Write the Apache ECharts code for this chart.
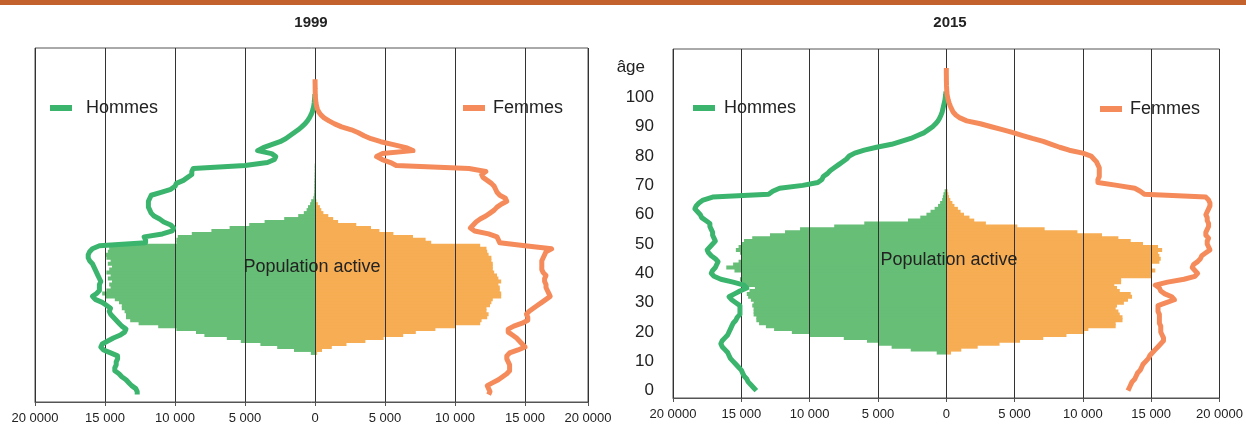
<!DOCTYPE html>
<html>
<head>
<meta charset="utf-8">
<script src="https://cdn.jsdelivr.net/npm/echarts@6/dist/echarts.min.js"></script>
<style>
  html, body { margin: 0; padding: 0; background: #fff; }
  #chart { width: 1246px; height: 428px; }
</style>
</head>
<body>
<div id="chart"></div>
<script>
// population totale par âge (index = âge), en personnes
const hommes1999 = [
  12700, 12700, 12800, 13100, 13300, 13500, 13800, 14000, 14300, 14300,
  14200, 14200, 14100, 14100, 14600, 15100, 15300, 15200, 14800, 14400,
  13900, 13600, 13500, 13800, 14000, 14200, 14400, 14600, 14700, 14600,
  14900, 15200, 15700, 15900, 15600, 15400, 15400, 15400, 15300, 15400,
  15500, 15600, 15700, 15800, 15900, 16100, 16200, 16200, 16100, 15900,
  15400, 12100, 12100, 12200, 10900, 10200, 10100, 10300, 10800, 11100,
  11500, 11700, 11800, 11900, 11900, 11900, 11800, 11700, 11000, 10300,
  10000, 9900, 9400, 9100, 8800, 8800, 8700, 5000, 3400, 2900,
  2800, 3100, 4100, 3700, 3100, 2500, 2100, 1800, 1500, 1200,
  950, 720, 540, 400, 290, 200, 140, 90, 60, 40,
  20, 10
];
const femmes1999 = [
  12400, 12500, 12400, 12300, 12700, 13100, 13400, 13700, 13900, 13900,
  13900, 13800, 13700, 13700, 13900, 14500, 15000, 14800, 14600, 14400,
  14100, 13800, 13800, 14200, 14800, 15200, 15200, 15100, 15300, 15600,
  15900, 16200, 16500, 16800, 16700, 16600, 16500, 16500, 16400, 16400,
  16500, 16300, 16200, 16200, 16200, 16200, 16300, 16400, 16500, 16900,
  15000, 13200, 13100, 13000, 12400, 11400, 11100, 11300, 11500, 11800,
  12200, 12500, 12800, 13000, 13300, 13700, 13600, 13200, 13000, 12900,
  12800, 12600, 12300, 12000, 11900, 12200, 11000, 5800, 5400, 4800,
  4400, 4800, 7000, 6500, 5600, 4700, 4000, 3500, 3100, 2600,
  1900, 1400, 1000, 650, 420, 270, 170, 110, 70, 45,
  30, 20, 15, 10, 10, 5, 5
];
const hommes2015 = [
  13900, 14100, 14300, 14500, 14600, 14800, 14900, 15000, 15200, 15400,
  15600, 15800, 15900, 16000, 16200, 16400, 16500, 16400, 16200, 16000,
  15900, 15800, 15700, 15600, 15400, 15300, 15100, 15100, 15100, 15100,
  15400, 15700, 15900, 15500, 15100, 14600, 14800, 15600, 16500, 17000,
  17200, 17100, 16900, 16800, 16700, 16900, 17200, 17400, 17500, 17300,
  17100, 16900, 17000, 17100, 17100, 17200, 17300, 17300, 17600, 17900,
  18000, 18200, 18400, 18300, 18100, 17800, 17100, 13000, 12700, 12200,
  10500, 9400, 9100, 9000, 8700, 8500, 8200, 7900, 7600, 7300,
  7100, 6700, 6000, 5100, 4000, 3300, 2600, 2100, 1600, 1300,
  1000, 780, 600, 480, 380, 300, 250, 200, 150, 100,
  70, 40, 20
];
const femmes2015 = [
  13300, 13400, 13500, 13600, 13800, 13900, 14000, 14200, 14300, 14400,
  14600, 14800, 14900, 15100, 15300, 15500, 15700, 15900, 15900, 15800,
  15700, 15700, 15700, 15600, 15600, 15600, 15600, 15500, 15500, 15500,
  16100, 16700, 16500, 16000, 15700, 15600, 15300, 16200, 17400, 18200,
  18400, 18200, 18000, 18100, 18400, 18600, 18700, 19000, 19300, 19200,
  19100, 19100, 19200, 19000, 19000, 19100, 19200, 19200, 19100, 19100,
  19000, 19100, 19200, 19300, 19300, 19200, 19000, 14500, 14200, 13800,
  12500, 11100, 11100, 11200, 11200, 11200, 11200, 11100, 11000, 10800,
  10600, 10000, 9000, 8300, 7700, 7100, 6300, 5600, 4900, 4100,
  3300, 2500, 1500, 1000, 700, 500, 400, 300, 220, 150,
  100, 60, 40, 30, 20, 15, 10, 10, 5, 5, 5
];

// population active par âge, à partir de l'âge de début
const debutActifs1999 = 14;
const actifsH1999 = [
  300, 1500, 2700, 3900, 5300, 6300, 7900, 8500, 9900, 11200,
  12600, 13200, 13500, 13500, 13600, 13800, 13800, 14000, 14300, 15000,
  15200, 14900, 14600, 14700, 14500, 14800, 14600, 14900, 14700, 14500,
  14800, 14600, 14900, 15000, 14800, 14700, 14300, 9900, 9900, 9800,
  8800, 7400, 6100, 4700, 3600, 2200, 1200, 800, 600, 500,
  350, 270, 120, 80, 60, 50, 50, 40, 40, 30,
  30, 20, 20, 20
];
const actifsF1999 = [
  150, 500, 1200, 2250, 3600, 4900, 6300, 7200, 8600, 10000,
  11800, 11900, 12300, 12400, 12250, 12250, 12500, 12600, 12700, 13300,
  13300, 13200, 13200, 13100, 13300, 13100, 13000, 12800, 12700, 12700,
  12700, 12600, 12600, 12400, 12300, 12250, 11800, 8300, 7900, 7000,
  5600, 4600, 4000, 2950, 1650, 1300, 950, 600, 450, 350,
  200, 100, 50, 30, 20, 20, 20
];
const debutActifs2015 = 13;
const actifsH2015 = [
  700, 2600, 4000, 5000, 5800, 7500, 10000, 11300, 12600, 13200,
  13700, 13900, 13900, 14100, 14100, 14100, 14200, 14100, 14300, 14500,
  14600, 14400, 14000, 14700, 15000, 15100, 15000, 15000, 15500, 16100,
  15600, 15200, 15000, 15000, 15100, 15400, 15200, 15000, 14800, 14200,
  12900, 11800, 10700, 8200, 6000, 2800, 1900, 1450, 1150, 850,
  600, 450, 300, 250, 200, 120
];
const actifsF2015 = [
  350, 1100, 2300, 3900, 5400, 7100, 8800, 10100, 10400, 12400,
  12400, 12900, 12900, 12700, 12600, 12400, 12500, 13000, 13300, 13600,
  13500, 12700, 12500, 12300, 12800, 12800, 15000, 15000, 15300, 15000,
  15000, 15600, 15700, 15600, 15500, 15800, 15500, 14400, 13500, 12600,
  11400, 9600, 7200, 5200, 2900, 2050, 1700, 1300, 1050, 850,
  600, 450, 300, 200, 150, 100
];

// catégories de l'axe des âges
const ages = [];
for (let a = -2; a <= 116; a++) ages.push(String(a));
const etiquettesAge = [0, 10, 20, 30, 40, 50, 60, 70, 80, 90, 100];

const vertLigne = '#3bb46e';
const vertBarres = '#67be76';
const orangeLigne = '#f58b5a';
const orangeBarres = '#f6ad53';
const police = '"Liberation Sans", Arial, sans-serif';

function ligne(valeurs, signe) {
  return ages.map(a => {
    const v = valeurs[+a];
    return v == null ? null : signe * v;
  });
}
function barres(valeurs, debut, signe) {
  return ages.map(a => {
    const v = valeurs[+a - debut];
    return v == null ? null : signe * v;
  });
}
function etiquetteX(v) {
  const a = Math.abs(v);
  if (a >= 19500) return '20 0000';
  if (a === 0) return '0';
  return (a / 1000) + ' 000';
}

function axeX(idx, max) {
  return {
    type: 'value', gridIndex: idx, min: -20000, max: max, interval: 5000, z: 2,
    axisLine: { show: true, lineStyle: { color: '#555', width: 1 } },
    axisTick: { show: true, length: 4, lineStyle: { color: '#555' } },
    splitLine: { show: true, lineStyle: { color: '#333', width: 1 } },
    axisLabel: {
      formatter: etiquetteX, fontSize: 13, color: '#222', margin: 10,
      showMinLabel: true, showMaxLabel: true
    }
  };
}
function axeY(idx, labels) {
  return {
    type: 'category', gridIndex: idx, data: ages,
    axisLine: { show: false }, axisTick: { show: false }, splitLine: { show: false },
    axisLabel: {
      show: labels, fontSize: 17, color: '#222', margin: 19,
      interval: (i, v) => etiquettesAge.indexOf(+v) >= 0
    }
  };
}
function legende(nom, left, top, ecart) {
  return {
    data: [nom], left: left, top: top, padding: 0,
    icon: 'rect', itemWidth: 22, itemHeight: 6,
    selectedMode: false,
    textStyle: { fontSize: 18, color: '#222', fontFamily: police, padding: [0, 0, 0, ecart] }
  };
}
function texte(t, x, y, font, align) {
  return {
    type: 'text', x: x, y: y, z: 100, silent: true,
    style: {
      text: t, font: font, fill: '#222',
      align: align, verticalAlign: 'middle',
      textAlign: align, textVerticalAlign: 'middle'
    }
  };
}
function serie(nom, type, idx, data, couleur, z) {
  const s = {
    name: nom, type: type, xAxisIndex: idx, yAxisIndex: idx, data: data, z: z,
    itemStyle: { color: couleur }, silent: true
  };
  if (type === 'bar') {
    s.barGap = '-100%';
    s.barWidth = 4;
  } else {
    s.showSymbol = false;
    s.lineStyle = { width: 5, color: couleur, join: 'round' };
  }
  return s;
}

const chart = echarts.init(document.getElementById('chart'), null, { renderer: 'canvas' });
chart.setOption({
  animation: false,
  backgroundColor: '#fff',
  textStyle: { fontFamily: police },
  grid: [
    { left: 35, top: 48, width: 553, height: 354, show: true, borderColor: '#555', borderWidth: 1 },
    { left: 673, top: 49, width: 554, height: 349, show: true, borderColor: '#555', borderWidth: 1 }
  ],
  xAxis: [axeX(0, 19500), axeX(1, 20000)],
  yAxis: [axeY(0, false), axeY(1, true)],
  legend: [
    legende('Hommes', 50, 99, 9),
    legende('Femmes', 463, 99, 3),
    legende('Hommes', 693, 99, 4),
    legende('Femmes', 1100, 100, 3)
  ],
  graphic: [
    { type: 'rect', shape: { x: 0, y: 0, width: 1246, height: 5 }, style: { fill: '#c4622d' }, silent: true },
    texte('1999', 311, 23, 'bold 15px ' + police, 'center'),
    texte('2015', 950, 23, 'bold 15px ' + police, 'center'),
    texte('âge', 645, 67, '17px ' + police, 'right'),
    texte('Population active', 312, 267, '18px ' + police, 'center'),
    texte('Population active', 949, 260, '18px ' + police, 'center')
  ],
  series: [
    serie('Actifs hommes 1999', 'bar', 0, barres(actifsH1999, debutActifs1999, -1), vertBarres, 1),
    serie('Actifs femmes 1999', 'bar', 0, barres(actifsF1999, debutActifs1999, 1), orangeBarres, 1),
    serie('Hommes', 'line', 0, ligne(hommes1999, -1), vertLigne, 4),
    serie('Femmes', 'line', 0, ligne(femmes1999, 1), orangeLigne, 4),
    serie('Actifs hommes 2015', 'bar', 1, barres(actifsH2015, debutActifs2015, -1), vertBarres, 1),
    serie('Actifs femmes 2015', 'bar', 1, barres(actifsF2015, debutActifs2015, 1), orangeBarres, 1),
    serie('Hommes', 'line', 1, ligne(hommes2015, -1), vertLigne, 4),
    serie('Femmes', 'line', 1, ligne(femmes2015, 1), orangeLigne, 4)
  ]
});
</script>
</body>
</html>
